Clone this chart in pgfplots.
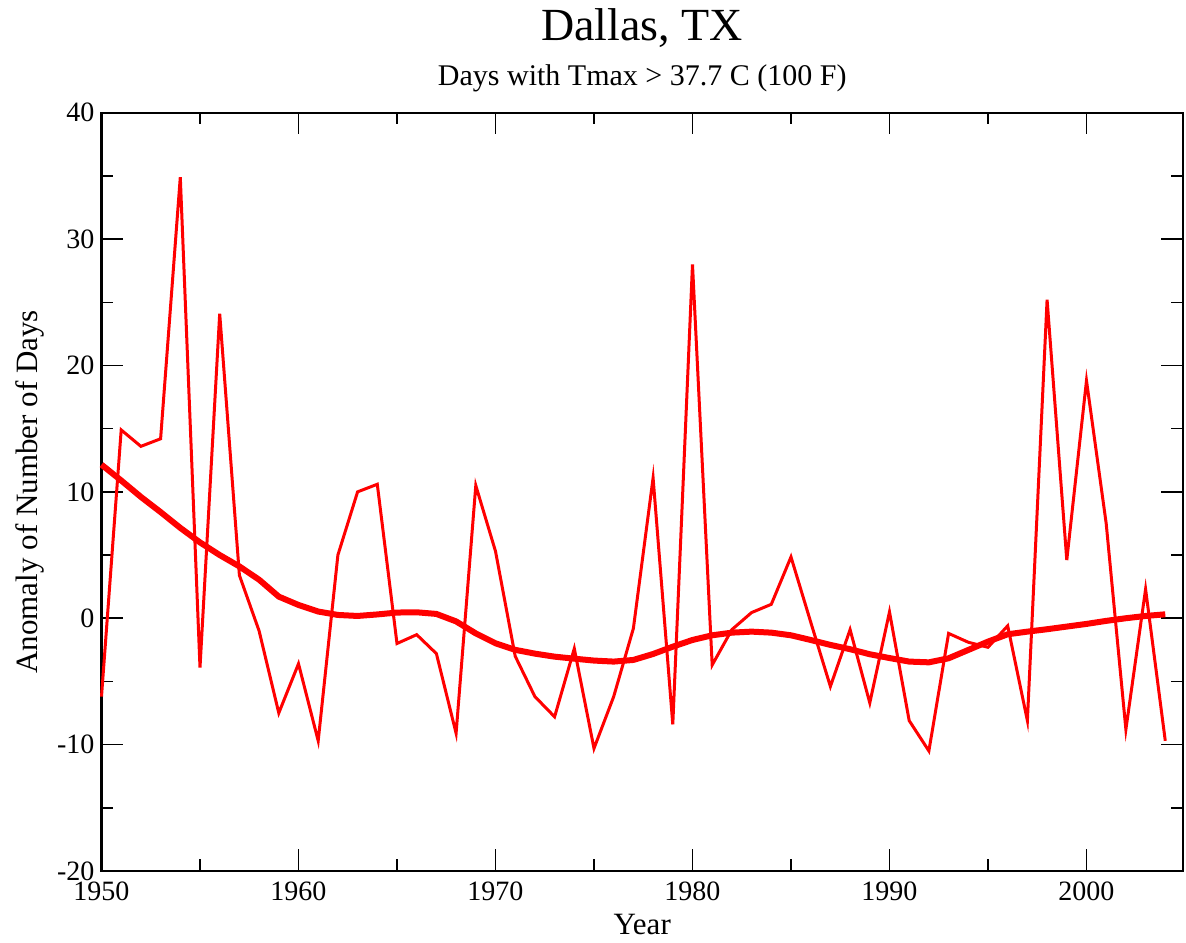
\documentclass[border=0pt]{standalone}
\usepackage{pgfplots}
\pgfplotsset{compat=1.18}
\usepackage{fontspec}
\setmainfont{Liberation Serif}
\begin{document}
\begin{tikzpicture}
\begin{axis}[
  scale only axis=true,
  width=540.75pt, height=379.15pt,
  xmin=1950, xmax=2004.9,
  ymin=-20, ymax=40,
  xtick={1950,1960,1970,1980,1990,2000},
  ytick={-20,-10,0,10,20,30,40},
  minor x tick num=1,
  minor y tick num=1,
  tick align=inside,
  major tick length=10.8pt,
  minor tick length=5.8pt,
  tick style={black, line width=0.75pt},
  axis line style={black, line width=1pt},
  /pgf/number format/1000 sep={},
  /pgf/number format/assume math mode=true,
  ticklabel style={font=\fontsize{14}{16}\selectfont},
  xticklabel style={yshift=-2pt},
  xlabel={Year},
  ylabel={Anomaly of Number of Days},
  xlabel style={font=\fontsize{15.5}{18}\selectfont, at={(axis description cs:0.5,-0.0712)}, anchor=center},
  ylabel style={font=\fontsize{15.5}{18}\selectfont, at={(axis description cs:-0.0661,0.5)}, anchor=center, rotate=0},
  clip=false,
]
\addplot[red, line width=1.5pt, line join=miter] coordinates {
(1950,-6.2) (1951,14.9) (1952,13.6) (1953,14.2) (1954,34.9) (1955,-3.9)
(1956,24.1) (1957,3.4) (1958,-1.0) (1959,-7.5) (1960,-3.6) (1961,-9.7)
(1962,5.0) (1963,10.0) (1964,10.6) (1965,-2.0) (1966,-1.3) (1967,-2.8)
(1968,-9.1) (1969,10.5) (1970,5.3) (1971,-3.0) (1972,-6.2) (1973,-7.8)
(1974,-2.4) (1975,-10.3) (1976,-6.2) (1977,-0.8) (1978,11.1) (1979,-8.4)
(1980,28.0) (1981,-3.7) (1982,-0.9) (1983,0.45) (1984,1.1) (1985,4.85)
(1986,-0.3) (1987,-5.4) (1988,-0.9) (1989,-6.7) (1990,0.5) (1991,-8.1)
(1992,-10.5) (1993,-1.2) (1994,-1.9) (1995,-2.3) (1996,-0.6) (1997,-8.1)
(1998,25.2) (1999,4.6) (2000,18.8) (2001,7.5) (2002,-8.8) (2003,2.3)
(2004,-9.7)
};
\addplot[red, line width=3pt, line join=round] coordinates {
(1950,12.15) (1951,10.9) (1952,9.6) (1953,8.4) (1954,7.15) (1955,6.0)
(1956,5.0) (1957,4.1) (1958,3.05) (1959,1.71) (1960,1.05) (1961,0.53)
(1962,0.26) (1963,0.18) (1964,0.3) (1965,0.45) (1966,0.47) (1967,0.34)
(1968,-0.25) (1969,-1.2) (1970,-1.98) (1971,-2.5) (1972,-2.8) (1973,-3.04)
(1974,-3.2) (1975,-3.35) (1976,-3.43) (1977,-3.3) (1978,-2.83) (1979,-2.25)
(1980,-1.72) (1981,-1.35) (1982,-1.14) (1983,-1.06) (1984,-1.14) (1985,-1.35)
(1986,-1.72) (1987,-2.11) (1988,-2.45) (1989,-2.85) (1990,-3.15) (1991,-3.43)
(1992,-3.49) (1993,-3.17) (1994,-2.51) (1995,-1.85) (1996,-1.27) (1997,-1.06)
(1998,-0.87) (1999,-0.66) (2000,-0.45) (2001,-0.21) (2002,0.0) (2003,0.18)
(2004,0.31)
};
\node[font=\fontsize{23}{27}\selectfont, anchor=center] at (axis description cs:0.5,1.1117) {Dallas, TX};
\node[font=\fontsize{15}{18}\selectfont, anchor=center] at (axis description cs:0.5,1.0458) {Days with Tmax > 37.7 C (100 F)};
\coordinate (bl) at (axis description cs:0,0);
\coordinate (tr) at (axis description cs:1,1);
\end{axis}
\path ([xshift=-50.75pt,yshift=-35.5pt]bl) rectangle ([xshift=1.5pt,yshift=56.35pt]tr);
\end{tikzpicture}
\end{document}
